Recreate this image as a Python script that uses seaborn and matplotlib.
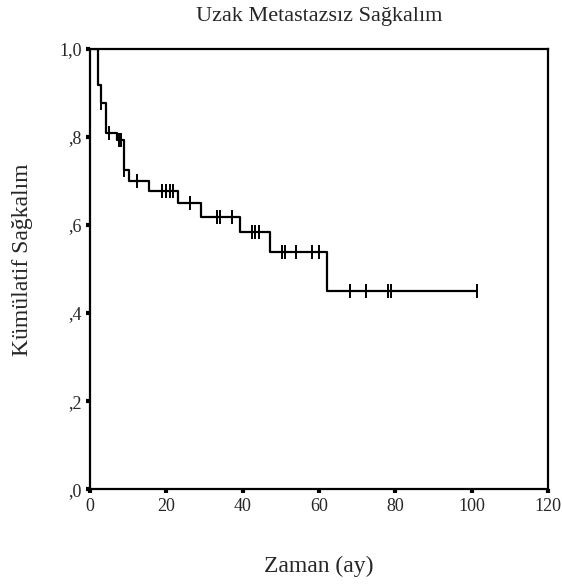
import numpy as np
import pandas as pd
import seaborn as sns
from matplotlib import pyplot as plt
from matplotlib.ticker import FuncFormatter

# step points of the Kaplan-Meier curve (time in months, cumulative survival)
step_time = [0, 2.2, 3.0, 4.2, 7.0, 9.0, 10.3, 15.5, 23.2, 29.0, 39.3, 47.2, 62.2, 101.3]
step_surv = [1.0, 0.917, 0.877, 0.808, 0.793, 0.725, 0.700, 0.677, 0.649, 0.619, 0.585, 0.539, 0.451, 0.451]

# censored observations
cens_time = [3.0, 5.1, 7.7, 8.2, 8.8, 12.4, 19.0, 19.9, 21.0, 21.8, 26.2,
             33.4, 34.0, 37.1, 42.4, 43.2, 44.2, 50.2, 51.1, 54.1, 58.1, 60.0,
             68.1, 72.2, 78.2, 78.8, 101.3]
cens_surv = [0.877, 0.808, 0.793, 0.793, 0.725, 0.700, 0.677, 0.677, 0.677, 0.677, 0.649,
             0.619, 0.619, 0.619, 0.585, 0.585, 0.585, 0.539, 0.539, 0.539, 0.539, 0.539,
             0.451, 0.451, 0.451, 0.451, 0.451]

sns.set_style('white')
plt.rcParams['font.family'] = ['Liberation Serif', 'DejaVu Serif']

fig = plt.figure(figsize=(5.62, 5.88), dpi=100)
ax = fig.add_axes([0.160, 0.168, 0.815, 0.749])

steps = pd.DataFrame({'t': step_time, 's': step_surv})
cens = pd.DataFrame({'t': cens_time, 's': cens_surv})

sns.lineplot(data=steps, x='t', y='s', drawstyle='steps-post', color='black', linewidth=1.6, ax=ax)
sns.scatterplot(data=cens, x='t', y='s', marker='|', s=90, color='black', linewidth=1.4, ax=ax)

ax.set_xlim(0, 120)
ax.set_ylim(0, 1.0)
ax.set_xticks(np.arange(0, 121, 20))
ax.set_yticks(np.arange(0, 1.01, 0.2))
ax.yaxis.set_major_formatter(FuncFormatter(lambda v, p: '1,0' if v > 0.99 else (',%d' % round(v * 10))))

for sp in ax.spines.values():
    sp.set_color('black')
    sp.set_linewidth(1.6)

ax.tick_params(axis='both', direction='out', length=3, width=3, color='black',
               labelsize=13, pad=3, bottom=True, left=True)

ax.set_title('Uzak Metastazsız Sağkalım', fontsize=16, pad=20)
ax.set_xlabel('Zaman (ay)', fontsize=17, labelpad=30)
ax.set_ylabel('Kümülatif Sağkalım', fontsize=17)
ax.yaxis.set_label_coords(-0.125, 0.52)

fig.savefig('out.png', dpi=100)
